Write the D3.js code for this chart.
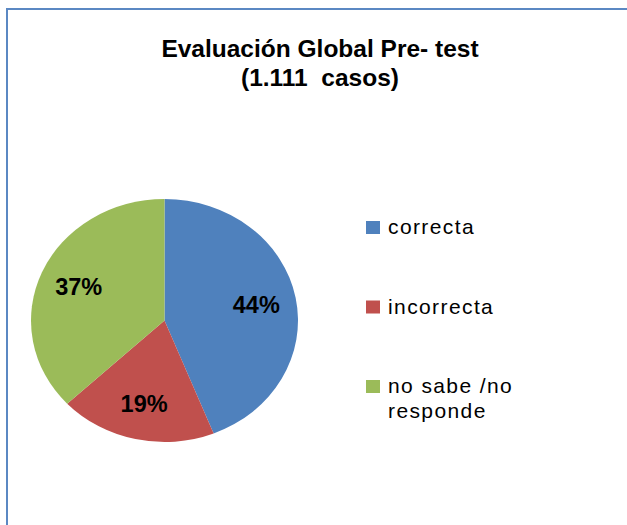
<!DOCTYPE html>
<html>
<head>
<meta charset="utf-8">
<script src="https://cdn.jsdelivr.net/npm/d3@7"></script>
<style>
  html, body { margin: 0; padding: 0; background: #fff; overflow: hidden; }
  svg { display: block; font-family: "Liberation Sans", Arial, sans-serif; }
</style>
</head>
<body>
<div id="chart"></div>
<script>
// ── Data ───────────────────────────────────────────────────────────────
const categories = ["correcta", "incorrecta", "no sabe /no responde"];
const legendLines = [["correcta"], ["incorrecta"], ["no sabe /no", "responde"]];
const percents = [44, 19, 37];
const colors = ["#4F81BD", "#C0504D", "#9BBB59"];
const titleLines = ["Evaluación Global Pre- test", "(1.111  casos)"];

function renderPie(selector) {
  const W = 627, H = 525;

  const svg = d3.select(selector)
    .append("svg")
    .attr("width", W)
    .attr("height", H);

  // ── Frame ──────────────────────────────────────────────────────────────
  svg.append("rect")
    .attr("x", 7)
    .attr("y", 9)
    .attr("width", W + 20)
    .attr("height", H + 20)
    .attr("fill", "none")
    .attr("stroke", "#5B88C3")
    .attr("stroke-width", 2);

  // ── Title ──────────────────────────────────────────────────────────────
  svg.append("g")
    .selectAll("text")
    .data(titleLines)
    .join("text")
    .attr("x", 320)
    .attr("y", (d, i) => 57 + i * 29)
    .attr("text-anchor", "middle")
    .style("font-size", "24.5px")
    .style("font-weight", "bold")
    .style("white-space", "pre")
    .attr("fill", "#000")
    .text((d) => d);

  // ── Pie (ellipse: circle stretched horizontally) ───────────────────────
  const cx = 164.5, cy = 320.5;
  const rx = 133.5, ry = 121.5;
  const r = ry;

  const data = categories.map((c, i) => ({ name: c, value: percents[i], color: colors[i] }));

  const pie = d3.pie().sort(null).value((d) => d.value);
  const arcs = pie(data);

  const arc = d3.arc().innerRadius(0).outerRadius(r);

  svg.append("g")
    .attr("transform", `translate(${cx},${cy}) scale(${rx / r},1)`)
    .selectAll("path")
    .data(arcs)
    .join("path")
    .attr("d", arc)
    .attr("fill", (d) => d.data.color);

  // ── Slice labels ───────────────────────────────────────────────────────
  const labelArc = d3.arc().innerRadius(r * 0.7).outerRadius(r * 0.7);

  svg.append("g")
    .selectAll("text")
    .data(arcs)
    .join("text")
    .attr("x", (d) => cx + labelArc.centroid(d)[0] * (rx / r))
    .attr("y", (d) => cy + labelArc.centroid(d)[1] + 8)
    .attr("text-anchor", "middle")
    .style("font-size", "23.5px")
    .style("font-weight", "bold")
    .attr("fill", "#000")
    .text((d) => `${d.data.value}%`);

  // ── Legend ─────────────────────────────────────────────────────────────
  const legend = svg.append("g")
    .selectAll("g")
    .data(data)
    .join("g")
    .attr("transform", (d, i) => `translate(366,${234 + i * 79.5})`);

  legend.append("rect")
    .attr("x", 0)
    .attr("y", -13)
    .attr("width", 14)
    .attr("height", 13)
    .attr("fill", (d) => d.color);

  legend.append("text")
    .attr("x", 22)
    .attr("y", 0)
    .style("font-size", "21px")
    .style("letter-spacing", "1.4px")
    .attr("fill", "#000")
    .selectAll("tspan")
    .data((d, i) => legendLines[i])
    .join("tspan")
    .attr("x", 22)
    .attr("dy", (d, j) => (j === 0 ? 0 : 25))
    .text((d) => d);
}

renderPie("#chart");
</script>
</body>
</html>
